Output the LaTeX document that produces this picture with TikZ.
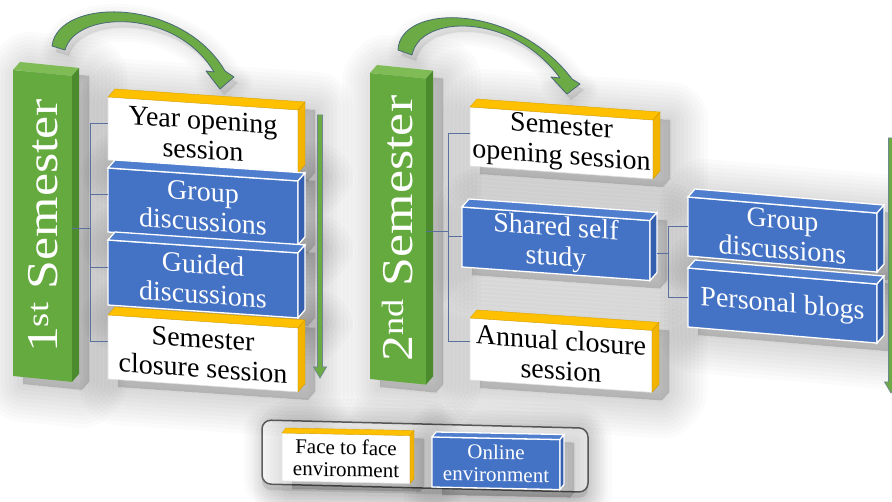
\documentclass[tikz,border=0pt]{standalone}
\usepackage{fontspec}
\setmainfont{Liberation Serif}
\usepackage{graphicx}

\definecolor{barGreen}{RGB}{100,170,62}
\definecolor{barTop}{RGB}{128,188,86}
\definecolor{barSide}{RGB}{76,138,46}
\definecolor{onBlue}{RGB}{68,114,196}
\definecolor{onTop}{RGB}{80,126,206}
\definecolor{onSide}{RGB}{52,95,175}
\definecolor{ffGold}{RGB}{255,192,0}
\definecolor{ffSide}{RGB}{242,180,0}
\definecolor{linkBlue}{RGB}{92,112,158}
\definecolor{arcGreen}{RGB}{108,170,70}
\definecolor{arcEdge}{RGB}{72,104,118}
\definecolor{frameGray}{RGB}{100,100,100}

\tikzset{
  block/.style={anchor=north west, inner sep=2pt, outer sep=0pt, align=center},
  bigfont/.style={font=\fontsize{28}{30}\selectfont},
  smallfont/.style={font=\fontsize{21}{22}\selectfont},
  facefront/.style={fill=white, draw=black!12, line width=0.6pt, text=black},
  facetop/.style={fill=ffGold, draw=ffGold!85!black, line width=0.4pt},
  faceside/.style={fill=ffSide, draw=ffSide!85!black, line width=0.4pt},
  onlinefront/.style={fill=onBlue, draw=white, line width=1.3pt, text=white},
  onlinetop/.style={fill=onTop, draw=white, line width=1.3pt},
  onlineside/.style={fill=onSide, draw=white, line width=1.3pt},
  barfront/.style={fill=barGreen},
  bartop/.style={fill=barTop},
  barside/.style={fill=barSide},
  shadowpen/.style={fill=black, draw=black, opacity=0.017, line join=round},
  link/.style={draw=linkBlue, line width=1pt},
  arc/.style={fill=arcGreen, draw=arcEdge, line width=0.8pt, line join=round},
  flow/.style={fill=arcGreen, draw=arcEdge!80, line width=0.7pt},
  barlabel/.style={rotate=90, text=white, font=\fontsize{44}{44}\selectfont},
  legend frame/.style={anchor=north west, draw=frameGray, line width=1.5pt,
    rounded corners=9pt, fill=white, inner sep=0pt, outer sep=0pt},
}

% kind / name / x / y / width / height / slant / depth / font / text
\newcommand\boxspecs{%
  bar/bar1/13/70/59/306/-0.1/7/big/{},
  bar/bar2/370/73/56/306/-0.1/7/big/{},
  face/A1/108/97/190/63/-0.068/7/big/{Year opening\\session},
  online/A2/108/168/190/64/-0.068/7/big/{Group\\discussions},
  online/A3/108/240/190/65/-0.068/7/big/{Guided\\discussions},
  face/A4/108/315/190/64/-0.068/7/big/{Semester\\closure session},
  face/B1/470/107/183/59/-0.071/7/big/{Semester\\opening session},
  online/B2/462/207/188/60/-0.072/7/big/{Shared self\\study},
  face/B3/470/318/182/62/-0.068/7/big/{Annual closure\\session},
  online/C1/688/197/189/59/-0.085/7/big/{Group\\discussions},
  online/C2/688/268/189/59/-0.085/7/big/{Personal blogs},
  face/keyF/282/433/128/48/-0.02/4/small/{Face to face\\environment},
  online/keyO/432/437/128/50/-0.02/4/small/{Online\\environment}}

\newcommand\arcone{(52,46) .. controls (58,-3) and (182,-3) .. (225,71) -- (234,77) -- (220,89)
  -- (206,71) -- (214,72) .. controls (176,8) and (76,10) .. (65,50) -- cycle}
\newcommand\arctwo{(398,50) .. controls (400,3) and (515,3) .. (572,79) -- (580,84) -- (567,94)
  -- (551,77) -- (560,78) .. controls (512,12) and (420,14) .. (412,55) -- cycle}

\begin{document}
\begin{tikzpicture}[x=1pt,y=-1pt]
\fill[white] (0,0) rectangle (892,502);
\useasboundingbox (0,0) rectangle (892,502);

% legend frame with its soft shadow
\foreach \lw in {36,30,24,18,12,6}{
  \path[shadowpen, line width=\lw pt, rounded corners=9pt]
    (262,423) -- (588,431) -- (588,498) -- (262,490) -- cycle;}
\node[legend frame, yslant=-0.025, minimum width=326pt, minimum height=64pt] (key) at (262,420) {};

% soft shadows of all blocks (stacked translucent strokes)
\foreach \kind/\nm/\bx/\by/\bw/\bh/\bs/\bd/\bfont/\btext in \boxspecs {
  \foreach \lw in {76,68,60,52,44,36,28,20,12,4}{
    \path[shadowpen, line width=\lw pt]
      (\bx+10,\by+\bh+8) -- (\bx+10,\by+8) -- (\bx+\bd+10,\by-\bd+7)
      -- (\bx+\bw+\bd+10,\by-\bs*\bw-\bd+7) -- (\bx+\bw+\bd+10,\by-\bs*\bw+\bh-\bd+7)
      -- (\bx+\bw+10,\by-\bs*\bw+\bh+8) -- cycle;}
}
\foreach \lw in {28,22,16,10,4}{
  \path[shadowpen, line width=\lw pt, shift={(4,6)}] \arcone;
  \path[shadowpen, line width=\lw pt, shift={(4,6)}] \arctwo;}

% extruded blocks: front face node, then top and side faces
\foreach \kind/\nm/\bx/\by/\bw/\bh/\bs/\bd/\bfont/\btext in \boxspecs {
  \tikzset{curF/.style/.expanded={\kind front}, curT/.style/.expanded={\kind top},
    curS/.style/.expanded={\kind side}, curFont/.style/.expanded={\bfont font}}
  \node[curF, block, curFont, yslant=\bs, minimum width=\bw pt, minimum height=\bh pt]
    (\nm) at (\bx,\by) {\btext};
  \path[curT] (\nm.north west) -- ([shift={(\bd,-\bd-1)}]\nm.north west)
    -- ([shift={(\bd,-\bd-1)}]\nm.north east) -- (\nm.north east) -- cycle;
  \path[curS] (\nm.north east) -- ([shift={(\bd,-\bd-1)}]\nm.north east)
    -- ([shift={(\bd,-\bd-1)}]\nm.south east) -- (\nm.south east) -- cycle;
}

% semester labels
\node[barlabel] (lab1) at ([xshift=1pt]bar1.center) {\scalebox{1.18}[1]{1\textsuperscript{st} Semester}};
\node[barlabel] (lab2) at (bar2.center) {\scalebox{1.18}[1]{2\textsuperscript{nd} Semester}};

% brackets
\coordinate (j1) at ([xshift=18pt]bar1.east);
\foreach \b in {A1,A2,A3,A4}{\coordinate (t\b) at ([yshift=5pt]\b.west);}
\draw[link] (bar1.east) -- (j1);
\draw[link] (tA1) -- (tA1 -| j1) -- (tA4 -| j1) -- (tA4);
\draw[link] (tA2) -- (tA2 -| j1);
\draw[link] (tA3) -- (tA3 -| j1);

\coordinate (j2) at ([xshift=22pt]bar2.east);
\coordinate (tB1) at ([yshift=3pt]B1.west);
\coordinate (tB2) at (B2.west);
\coordinate (tB3) at ([yshift=7pt]B3.west);
\draw[link] (bar2.east) -- (j2);
\draw[link] (tB1) -- (tB1 -| j2) -- (tB3 -| j2) -- (tB3);
\draw[link] (tB2) -- (tB2 -| j2);

\coordinate (b2r) at ([shift={(7,3)}]B2.east);
\coordinate (j3) at ([xshift=11pt]b2r);
\draw[link] (b2r) -- (j3);
\draw[link] (C1.west) -- (C1.west -| j3) -- (C2.west -| j3) -- (C2.west);

% curved arrows into each semester
\filldraw[arc] \arcone;
\filldraw[arc] \arctwo;

% vertical progress arrows
\coordinate (v1a) at (320,115);
\coordinate (v1b) at (320,378);
\filldraw[flow] ([xshift=-2.5pt]v1a) -- ([xshift=2.5pt]v1a) -- ([shift={(2.5,-11)}]v1b)
  -- ([shift={(6.5,-11)}]v1b) -- (v1b) -- ([shift={(-6.5,-11)}]v1b) -- ([shift={(-2.5,-11)}]v1b) -- cycle;
\begin{scope}
  \clip (0,0) rectangle (892,502);
  \coordinate (v3a) at (891,138);
  \coordinate (v3b) at (891,393);
  \filldraw[flow] ([xshift=-2.5pt]v3a) -- ([xshift=2.5pt]v3a) -- ([shift={(2.5,-11)}]v3b)
    -- ([shift={(6.5,-11)}]v3b) -- (v3b) -- ([shift={(-6.5,-11)}]v3b) -- ([shift={(-2.5,-11)}]v3b) -- cycle;
\end{scope}
\end{tikzpicture}
\end{document}
